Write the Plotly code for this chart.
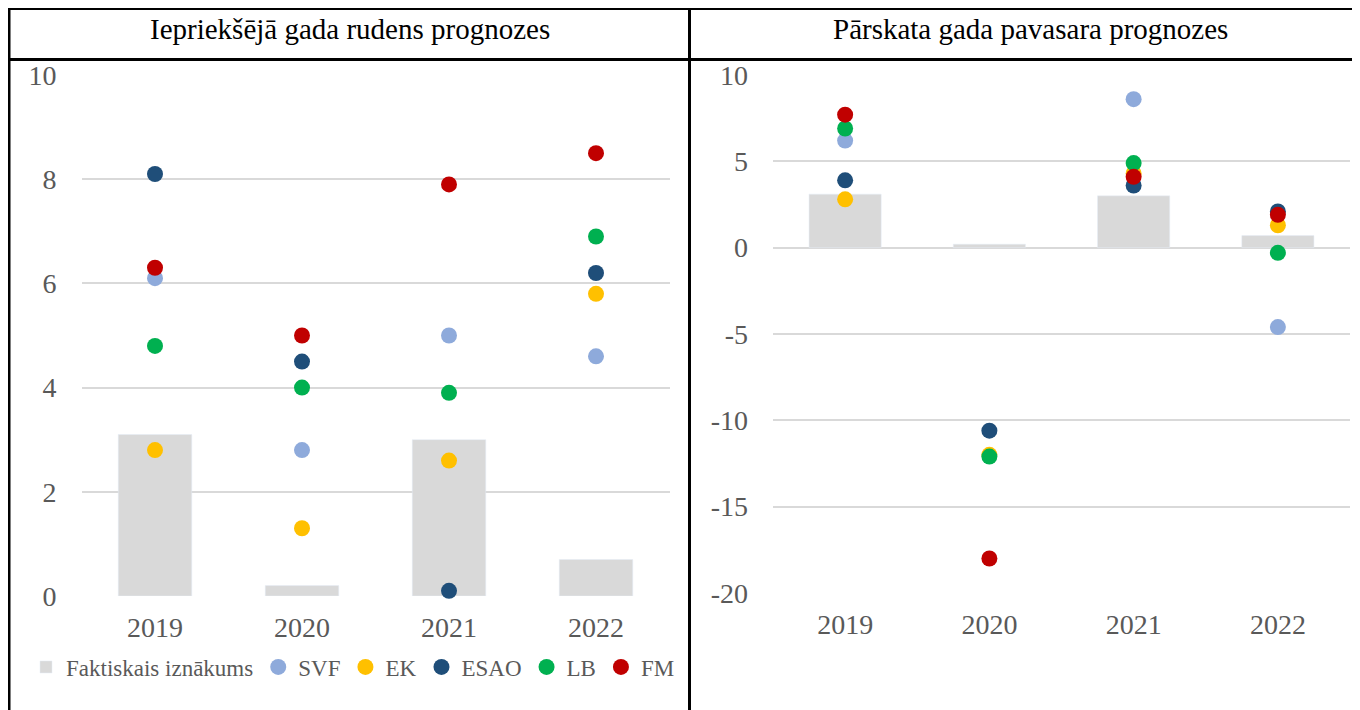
import plotly.graph_objs as go

# the page adds an 8px body margin, so the figure is a bit smaller and
# positions below are given in page pixels and shifted by OFF
OFF = 8
FW, FH = 1352, 702

years = ["2019", "2020", "2021", "2022"]

# Iepriekšējā gada rudens prognozes
rud_fakt = [3.1, 0.2, 3.0, 0.7]
rud_svf = [6.1, 2.8, 5.0, 4.6]
rud_ek = [2.8, 1.3, 2.6, 5.8]
rud_esao = [8.1, 4.5, 0.1, 6.2]
rud_lb = [4.8, 4.0, 3.9, 6.9]
rud_fm = [6.3, 5.0, 7.9, 8.5]

# Pārskata gada pavasara prognozes
pav_fakt = [3.1, 0.2, 3.0, 0.7]
pav_svf = [6.2, None, 8.6, -4.6]
pav_ek = [2.8, -12.0, 4.3, 1.3]
pav_esao = [3.9, -10.6, 3.6, 2.1]
pav_lb = [6.9, -12.1, 4.9, -0.3]
pav_fm = [7.7, -18.0, 4.1, 1.9]

rud_ticks = [0, 2, 4, 6, 8, 10]
pav_ticks = [-20, -15, -10, -5, 0, 5, 10]

names = ["SVF", "EK", "ESAO", "LB", "FM"]
colors = ["#8EAADB", "#FFC000", "#1F4E79", "#00B050", "#C00000"]

FONT = "Liberation Serif, Times New Roman, serif"
GREY = "#595959"


def fx(px):
    return (px - OFF) / FW


def fy(py):
    return 1 - (py - OFF) / FH


fig = go.Figure()


def add_panel(fakt, series, xa, ya, legend):
    fig.add_trace(go.Bar(x=years, y=fakt, name="Faktiskais iznākums",
                         marker_color="#D9D9D9", xaxis=xa, yaxis=ya,
                         showlegend=legend))
    for nm, vals, c in zip(names, series, colors):
        fig.add_trace(go.Scatter(x=years, y=vals, name=nm, mode="markers",
                                 marker=dict(color=c, size=16),
                                 xaxis=xa, yaxis=ya, showlegend=legend,
                                 cliponaxis=False))


add_panel(rud_fakt, [rud_svf, rud_ek, rud_esao, rud_lb, rud_fm], "x", "y", True)
add_panel(pav_fakt, [pav_svf, pav_ek, pav_esao, pav_lb, pav_fm], "x2", "y2", False)

tickfont = dict(family=FONT, size=28, color=GREY)
xcommon = dict(type="category", showgrid=False, showline=False, ticks="",
               tickfont=tickfont, ticklabelstandoff=12)
ycommon = dict(showgrid=True, gridcolor="#D9D9D9", gridwidth=2,
               zeroline=False, showline=False, ticks="",
               tickfont=tickfont, ticklabelstandoff=24)

fig.update_layout(
    width=FW, height=FH,
    margin=dict(l=0, r=0, t=0, b=0, autoexpand=False),
    paper_bgcolor="white", plot_bgcolor="white",
    bargap=0.5,
    font=dict(family=FONT, color=GREY),
    xaxis=dict(domain=[fx(81.5), fx(669.5)], anchor="y", **xcommon),
    yaxis=dict(domain=[fy(596), fy(75)], anchor="x", range=[0, 10],
               tickvals=rud_ticks, ticktext=[str(t) for t in rud_ticks],
               **ycommon),
    xaxis2=dict(domain=[fx(773), fx(1350)], anchor="y2", **xcommon),
    yaxis2=dict(domain=[fy(593), fy(75)], anchor="x2", range=[-20, 10],
                tickvals=pav_ticks, ticktext=[str(t) for t in pav_ticks],
                **ycommon),
    legend=dict(orientation="h", x=fx(26), xanchor="left",
                y=fy(667), yanchor="middle",
                font=dict(family=FONT, size=23, color=GREY),
                itemwidth=30, bgcolor="rgba(0,0,0,0)"),
)

# table borders
line = dict(color="black", width=3)
fig.add_shape(type="line", xref="paper", yref="paper",
              x0=fx(8), x1=1, y0=fy(8.5), y1=fy(8.5), line=line)
fig.add_shape(type="line", xref="paper", yref="paper",
              x0=fx(8), x1=1, y0=fy(59.5), y1=fy(59.5), line=line)
fig.add_shape(type="line", xref="paper", yref="paper",
              x0=fx(9), x1=fx(9), y0=0, y1=fy(7), line=line)
fig.add_shape(type="line", xref="paper", yref="paper",
              x0=fx(689.5), x1=fx(689.5), y0=0, y1=fy(7), line=line)

fig.add_annotation(text="Iepriekšējā gada rudens prognozes", xref="paper",
                   yref="paper", x=fx(350), y=fy(29), xanchor="center",
                   yanchor="middle", showarrow=False,
                   font=dict(family=FONT, size=29, color="black"))
fig.add_annotation(text="Pārskata gada pavasara prognozes", xref="paper",
                   yref="paper", x=fx(1030), y=fy(29), xanchor="center",
                   yanchor="middle", showarrow=False,
                   font=dict(family=FONT, size=29, color="black"))

fig.write_html("out.html")
